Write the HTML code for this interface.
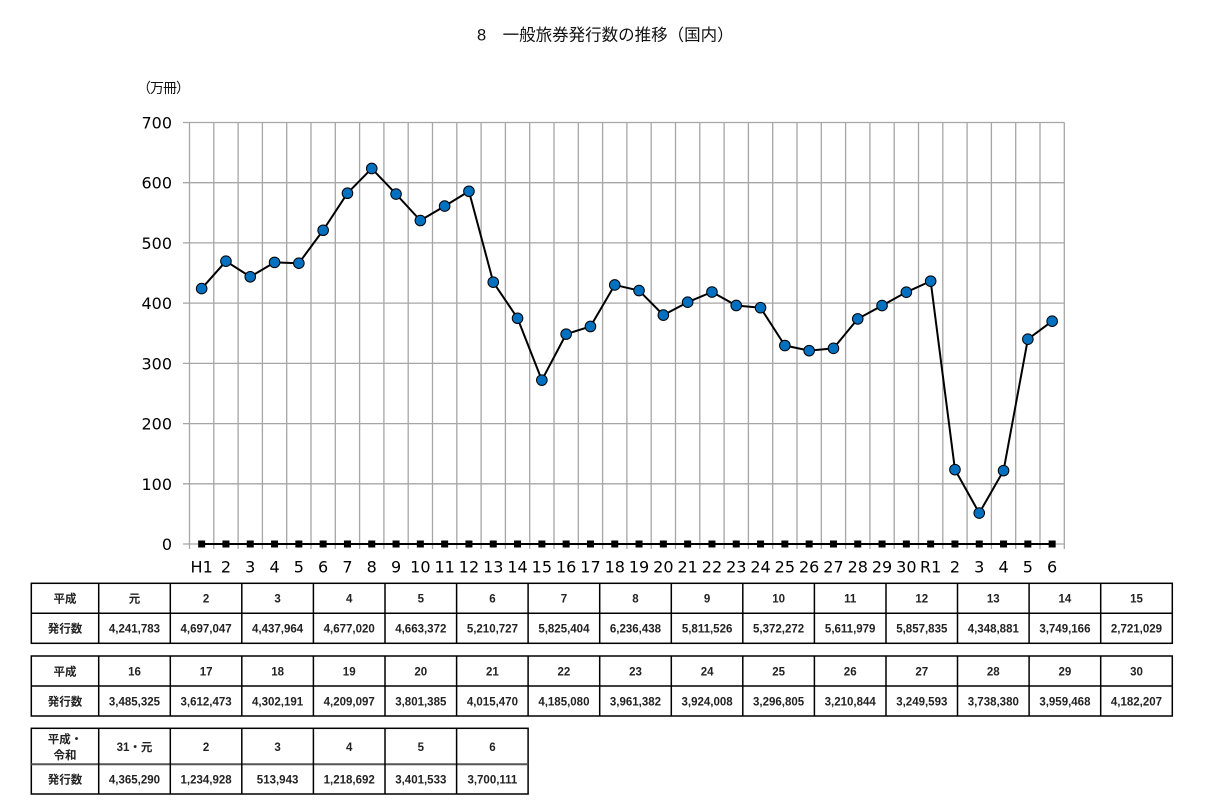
<!DOCTYPE html>
<html><head><meta charset="utf-8">
<style>
html,body{margin:0;padding:0;background:#fff;}
svg{display:block;}
.ax{font-family:"DejaVu Sans","Liberation Sans",sans-serif;font-size:16px;fill:#000;}
.tb{font-family:"Liberation Sans","Noto Sans CJK JP",sans-serif;font-size:11.5px;font-weight:bold;fill:#222;}
.jp{font-family:"Liberation Sans","Noto Sans CJK JP",sans-serif;}
#unit{position:absolute;left:137px;top:78px;font-family:"Noto Sans CJK JP",sans-serif;font-size:14px;line-height:20px;color:#111;white-space:nowrap;letter-spacing:-1px;}
</style></head>
<body>
<div style="position:relative;width:1226px;height:800px;">
<svg width="1226" height="800" viewBox="0 0 1226 800" xmlns="http://www.w3.org/2000/svg">
<rect width="1226" height="800" fill="#fff"/>
<text class="jp" x="477" y="40.5" font-size="16.5" fill="#111">8　一般旅券発行数の推移（国内）</text>

<g stroke="#a6a6a6" stroke-width="1.3">
<line x1="183" y1="122.5" x2="1064.3" y2="122.5"/>
<line x1="183" y1="182.7" x2="1064.3" y2="182.7"/>
<line x1="183" y1="242.9" x2="1064.3" y2="242.9"/>
<line x1="183" y1="303.1" x2="1064.3" y2="303.1"/>
<line x1="183" y1="363.4" x2="1064.3" y2="363.4"/>
<line x1="183" y1="423.6" x2="1064.3" y2="423.6"/>
<line x1="183" y1="483.8" x2="1064.3" y2="483.8"/>
<line x1="183" y1="544" x2="1064.3" y2="544"/>
<line x1="189.5" y1="122.5" x2="189.5" y2="549"/>
<line x1="213.8" y1="122.5" x2="213.8" y2="549"/>
<line x1="238.1" y1="122.5" x2="238.1" y2="549"/>
<line x1="262.4" y1="122.5" x2="262.4" y2="549"/>
<line x1="286.7" y1="122.5" x2="286.7" y2="549"/>
<line x1="311.0" y1="122.5" x2="311.0" y2="549"/>
<line x1="335.3" y1="122.5" x2="335.3" y2="549"/>
<line x1="359.6" y1="122.5" x2="359.6" y2="549"/>
<line x1="383.9" y1="122.5" x2="383.9" y2="549"/>
<line x1="408.2" y1="122.5" x2="408.2" y2="549"/>
<line x1="432.5" y1="122.5" x2="432.5" y2="549"/>
<line x1="456.8" y1="122.5" x2="456.8" y2="549"/>
<line x1="481.1" y1="122.5" x2="481.1" y2="549"/>
<line x1="505.4" y1="122.5" x2="505.4" y2="549"/>
<line x1="529.7" y1="122.5" x2="529.7" y2="549"/>
<line x1="554.0" y1="122.5" x2="554.0" y2="549"/>
<line x1="578.3" y1="122.5" x2="578.3" y2="549"/>
<line x1="602.6" y1="122.5" x2="602.6" y2="549"/>
<line x1="626.9" y1="122.5" x2="626.9" y2="549"/>
<line x1="651.2" y1="122.5" x2="651.2" y2="549"/>
<line x1="675.5" y1="122.5" x2="675.5" y2="549"/>
<line x1="699.8" y1="122.5" x2="699.8" y2="549"/>
<line x1="724.1" y1="122.5" x2="724.1" y2="549"/>
<line x1="748.4" y1="122.5" x2="748.4" y2="549"/>
<line x1="772.7" y1="122.5" x2="772.7" y2="549"/>
<line x1="797.0" y1="122.5" x2="797.0" y2="549"/>
<line x1="821.3" y1="122.5" x2="821.3" y2="549"/>
<line x1="845.6" y1="122.5" x2="845.6" y2="549"/>
<line x1="869.9" y1="122.5" x2="869.9" y2="549"/>
<line x1="894.2" y1="122.5" x2="894.2" y2="549"/>
<line x1="918.5" y1="122.5" x2="918.5" y2="549"/>
<line x1="942.8" y1="122.5" x2="942.8" y2="549"/>
<line x1="967.1" y1="122.5" x2="967.1" y2="549"/>
<line x1="991.4" y1="122.5" x2="991.4" y2="549"/>
<line x1="1015.7" y1="122.5" x2="1015.7" y2="549"/>
<line x1="1040.0" y1="122.5" x2="1040.0" y2="549"/>
<line x1="1064.3" y1="122.5" x2="1064.3" y2="549"/>
</g>

<g class="ax" text-anchor="end">
<text x="172" y="128.5">700</text>
<text x="172" y="188.7">600</text>
<text x="172" y="248.9">500</text>
<text x="172" y="309.1">400</text>
<text x="172" y="369.4">300</text>
<text x="172" y="429.6">200</text>
<text x="172" y="489.8">100</text>
<text x="172" y="550">0</text>
</g>

<g class="ax" text-anchor="middle">
<text x="201.65" y="572.5">H1</text>
<text x="225.95" y="572.5">2</text>
<text x="250.25" y="572.5">3</text>
<text x="274.55" y="572.5">4</text>
<text x="298.85" y="572.5">5</text>
<text x="323.15" y="572.5">6</text>
<text x="347.45" y="572.5">7</text>
<text x="371.75" y="572.5">8</text>
<text x="396.05" y="572.5">9</text>
<text x="420.35" y="572.5">10</text>
<text x="444.65" y="572.5">11</text>
<text x="468.95" y="572.5">12</text>
<text x="493.25" y="572.5">13</text>
<text x="517.55" y="572.5">14</text>
<text x="541.85" y="572.5">15</text>
<text x="566.15" y="572.5">16</text>
<text x="590.45" y="572.5">17</text>
<text x="614.75" y="572.5">18</text>
<text x="639.05" y="572.5">19</text>
<text x="663.35" y="572.5">20</text>
<text x="687.65" y="572.5">21</text>
<text x="711.95" y="572.5">22</text>
<text x="736.25" y="572.5">23</text>
<text x="760.55" y="572.5">24</text>
<text x="784.85" y="572.5">25</text>
<text x="809.15" y="572.5">26</text>
<text x="833.45" y="572.5">27</text>
<text x="857.75" y="572.5">28</text>
<text x="882.05" y="572.5">29</text>
<text x="906.35" y="572.5">30</text>
<text x="930.65" y="572.5">R1</text>
<text x="954.95" y="572.5">2</text>
<text x="979.25" y="572.5">3</text>
<text x="1003.55" y="572.5">4</text>
<text x="1027.85" y="572.5">5</text>
<text x="1052.15" y="572.5">6</text>
</g>

<!-- zero series -->
<line x1="201.65" y1="544" x2="1052.15" y2="544" stroke="#000" stroke-width="2"/>
<g fill="#000">
<rect x="198.15" y="540.5" width="7" height="7"/><rect x="222.45" y="540.5" width="7" height="7"/><rect x="246.75" y="540.5" width="7" height="7"/><rect x="271.05" y="540.5" width="7" height="7"/><rect x="295.35" y="540.5" width="7" height="7"/><rect x="319.65" y="540.5" width="7" height="7"/><rect x="343.95" y="540.5" width="7" height="7"/><rect x="368.25" y="540.5" width="7" height="7"/><rect x="392.55" y="540.5" width="7" height="7"/><rect x="416.85" y="540.5" width="7" height="7"/><rect x="441.15" y="540.5" width="7" height="7"/><rect x="465.45" y="540.5" width="7" height="7"/><rect x="489.75" y="540.5" width="7" height="7"/><rect x="514.05" y="540.5" width="7" height="7"/><rect x="538.35" y="540.5" width="7" height="7"/><rect x="562.65" y="540.5" width="7" height="7"/><rect x="586.95" y="540.5" width="7" height="7"/><rect x="611.25" y="540.5" width="7" height="7"/><rect x="635.55" y="540.5" width="7" height="7"/><rect x="659.85" y="540.5" width="7" height="7"/><rect x="684.15" y="540.5" width="7" height="7"/><rect x="708.45" y="540.5" width="7" height="7"/><rect x="732.75" y="540.5" width="7" height="7"/><rect x="757.05" y="540.5" width="7" height="7"/><rect x="781.35" y="540.5" width="7" height="7"/><rect x="805.65" y="540.5" width="7" height="7"/><rect x="829.95" y="540.5" width="7" height="7"/><rect x="854.25" y="540.5" width="7" height="7"/><rect x="878.55" y="540.5" width="7" height="7"/><rect x="902.85" y="540.5" width="7" height="7"/><rect x="927.15" y="540.5" width="7" height="7"/><rect x="951.45" y="540.5" width="7" height="7"/><rect x="975.75" y="540.5" width="7" height="7"/><rect x="1000.05" y="540.5" width="7" height="7"/><rect x="1024.35" y="540.5" width="7" height="7"/><rect x="1048.65" y="540.5" width="7" height="7"/>
</g>

<!-- main series -->
<polyline fill="none" stroke="#000" stroke-width="2" stroke-linejoin="round" points="201.65,288.58 225.95,261.17 250.25,276.77 274.55,262.38 298.85,263.20 323.15,230.24 347.45,193.23 371.75,168.48 396.05,194.06 420.35,220.51 444.65,206.08 468.95,191.28 493.25,282.14 517.55,318.24 541.85,380.16 566.15,334.13 590.45,326.48 614.75,284.95 639.05,290.55 663.35,315.10 687.65,302.21 711.95,292.00 736.25,305.47 760.55,307.72 784.85,345.49 809.15,350.66 833.45,348.33 857.75,318.89 882.05,305.58 906.35,292.17 930.65,281.15 954.95,469.64 979.25,513.06 1003.55,470.62 1027.85,339.18 1052.15,321.20"/>
<g fill="#0070c0" stroke="#000" stroke-width="1">
<circle cx="201.65" cy="288.58" r="5.3"/><circle cx="225.95" cy="261.17" r="5.3"/><circle cx="250.25" cy="276.77" r="5.3"/><circle cx="274.55" cy="262.38" r="5.3"/><circle cx="298.85" cy="263.20" r="5.3"/><circle cx="323.15" cy="230.24" r="5.3"/><circle cx="347.45" cy="193.23" r="5.3"/><circle cx="371.75" cy="168.48" r="5.3"/><circle cx="396.05" cy="194.06" r="5.3"/><circle cx="420.35" cy="220.51" r="5.3"/><circle cx="444.65" cy="206.08" r="5.3"/><circle cx="468.95" cy="191.28" r="5.3"/><circle cx="493.25" cy="282.14" r="5.3"/><circle cx="517.55" cy="318.24" r="5.3"/><circle cx="541.85" cy="380.16" r="5.3"/><circle cx="566.15" cy="334.13" r="5.3"/><circle cx="590.45" cy="326.48" r="5.3"/><circle cx="614.75" cy="284.95" r="5.3"/><circle cx="639.05" cy="290.55" r="5.3"/><circle cx="663.35" cy="315.10" r="5.3"/><circle cx="687.65" cy="302.21" r="5.3"/><circle cx="711.95" cy="292.00" r="5.3"/><circle cx="736.25" cy="305.47" r="5.3"/><circle cx="760.55" cy="307.72" r="5.3"/><circle cx="784.85" cy="345.49" r="5.3"/><circle cx="809.15" cy="350.66" r="5.3"/><circle cx="833.45" cy="348.33" r="5.3"/><circle cx="857.75" cy="318.89" r="5.3"/><circle cx="882.05" cy="305.58" r="5.3"/><circle cx="906.35" cy="292.17" r="5.3"/><circle cx="930.65" cy="281.15" r="5.3"/><circle cx="954.95" cy="469.64" r="5.3"/><circle cx="979.25" cy="513.06" r="5.3"/><circle cx="1003.55" cy="470.62" r="5.3"/><circle cx="1027.85" cy="339.18" r="5.3"/><circle cx="1052.15" cy="321.20" r="5.3"/>
</g>

<!-- Table 1 -->
<g stroke="#000" stroke-width="1.5" fill="none">
<rect x="31.3" y="583.3" width="1141" height="60"/>
<line x1="31.3" y1="613.3" x2="1172.3" y2="613.3"/>
<line x1="98.7" y1="583.3" x2="98.7" y2="643.3"/><line x1="170.3" y1="583.3" x2="170.3" y2="643.3"/><line x1="241.8" y1="583.3" x2="241.8" y2="643.3"/><line x1="313.4" y1="583.3" x2="313.4" y2="643.3"/><line x1="385.0" y1="583.3" x2="385.0" y2="643.3"/><line x1="456.6" y1="583.3" x2="456.6" y2="643.3"/><line x1="528.1" y1="583.3" x2="528.1" y2="643.3"/><line x1="599.7" y1="583.3" x2="599.7" y2="643.3"/><line x1="671.3" y1="583.3" x2="671.3" y2="643.3"/><line x1="742.8" y1="583.3" x2="742.8" y2="643.3"/><line x1="814.4" y1="583.3" x2="814.4" y2="643.3"/><line x1="886.0" y1="583.3" x2="886.0" y2="643.3"/><line x1="957.5" y1="583.3" x2="957.5" y2="643.3"/><line x1="1029.1" y1="583.3" x2="1029.1" y2="643.3"/><line x1="1100.7" y1="583.3" x2="1100.7" y2="643.3"/>
</g>
<g class="tb" text-anchor="middle">
<text x="65" y="602.5">平成</text><text x="134.5" y="602.5">元</text><text x="206.1" y="602.5">2</text><text x="277.6" y="602.5">3</text><text x="349.2" y="602.5">4</text><text x="420.8" y="602.5">5</text><text x="492.4" y="602.5">6</text><text x="563.9" y="602.5">7</text><text x="635.5" y="602.5">8</text><text x="707.1" y="602.5">9</text><text x="778.6" y="602.5">10</text><text x="850.2" y="602.5">11</text><text x="921.8" y="602.5">12</text><text x="993.3" y="602.5">13</text><text x="1064.9" y="602.5">14</text><text x="1136.5" y="602.5">15</text>
<text x="65" y="632.5">発行数</text><text x="134.5" y="632.5">4,241,783</text><text x="206.1" y="632.5">4,697,047</text><text x="277.6" y="632.5">4,437,964</text><text x="349.2" y="632.5">4,677,020</text><text x="420.8" y="632.5">4,663,372</text><text x="492.4" y="632.5">5,210,727</text><text x="563.9" y="632.5">5,825,404</text><text x="635.5" y="632.5">6,236,438</text><text x="707.1" y="632.5">5,811,526</text><text x="778.6" y="632.5">5,372,272</text><text x="850.2" y="632.5">5,611,979</text><text x="921.8" y="632.5">5,857,835</text><text x="993.3" y="632.5">4,348,881</text><text x="1064.9" y="632.5">3,749,166</text><text x="1136.5" y="632.5">2,721,029</text>
</g>

<!-- Table 2 -->
<g stroke="#000" stroke-width="1.5" fill="none">
<rect x="31.3" y="656" width="1141" height="60"/>
<line x1="31.3" y1="686" x2="1172.3" y2="686"/>
<line x1="98.7" y1="656" x2="98.7" y2="716"/><line x1="170.3" y1="656" x2="170.3" y2="716"/><line x1="241.8" y1="656" x2="241.8" y2="716"/><line x1="313.4" y1="656" x2="313.4" y2="716"/><line x1="385.0" y1="656" x2="385.0" y2="716"/><line x1="456.6" y1="656" x2="456.6" y2="716"/><line x1="528.1" y1="656" x2="528.1" y2="716"/><line x1="599.7" y1="656" x2="599.7" y2="716"/><line x1="671.3" y1="656" x2="671.3" y2="716"/><line x1="742.8" y1="656" x2="742.8" y2="716"/><line x1="814.4" y1="656" x2="814.4" y2="716"/><line x1="886.0" y1="656" x2="886.0" y2="716"/><line x1="957.5" y1="656" x2="957.5" y2="716"/><line x1="1029.1" y1="656" x2="1029.1" y2="716"/><line x1="1100.7" y1="656" x2="1100.7" y2="716"/>
</g>
<g class="tb" text-anchor="middle">
<text x="65" y="675.5">平成</text><text x="134.5" y="675.5">16</text><text x="206.1" y="675.5">17</text><text x="277.6" y="675.5">18</text><text x="349.2" y="675.5">19</text><text x="420.8" y="675.5">20</text><text x="492.4" y="675.5">21</text><text x="563.9" y="675.5">22</text><text x="635.5" y="675.5">23</text><text x="707.1" y="675.5">24</text><text x="778.6" y="675.5">25</text><text x="850.2" y="675.5">26</text><text x="921.8" y="675.5">27</text><text x="993.3" y="675.5">28</text><text x="1064.9" y="675.5">29</text><text x="1136.5" y="675.5">30</text>
<text x="65" y="705.5">発行数</text><text x="134.5" y="705.5">3,485,325</text><text x="206.1" y="705.5">3,612,473</text><text x="277.6" y="705.5">4,302,191</text><text x="349.2" y="705.5">4,209,097</text><text x="420.8" y="705.5">3,801,385</text><text x="492.4" y="705.5">4,015,470</text><text x="563.9" y="705.5">4,185,080</text><text x="635.5" y="705.5">3,961,382</text><text x="707.1" y="705.5">3,924,008</text><text x="778.6" y="705.5">3,296,805</text><text x="850.2" y="705.5">3,210,844</text><text x="921.8" y="705.5">3,249,593</text><text x="993.3" y="705.5">3,738,380</text><text x="1064.9" y="705.5">3,959,468</text><text x="1136.5" y="705.5">4,182,207</text>
</g>

<!-- Table 3 -->
<g stroke="#000" stroke-width="1.5" fill="none">
<rect x="31.3" y="728.3" width="496.8" height="65.7"/>
<line x1="31.3" y1="764.3" x2="528.1" y2="764.3" stroke="#555" stroke-width="2"/>
<line x1="98.7" y1="728.3" x2="98.7" y2="794"/><line x1="170.3" y1="728.3" x2="170.3" y2="794"/><line x1="241.8" y1="728.3" x2="241.8" y2="794"/><line x1="313.4" y1="728.3" x2="313.4" y2="794"/><line x1="385.0" y1="728.3" x2="385.0" y2="794"/><line x1="456.6" y1="728.3" x2="456.6" y2="794"/>
</g>
<g class="tb" text-anchor="middle">
<text x="65" y="743">平成・</text><text x="65" y="759">令和</text>
<text x="134.5" y="751">31・元</text><text x="206.1" y="751">2</text><text x="277.6" y="751">3</text><text x="349.2" y="751">4</text><text x="420.8" y="751">5</text><text x="492.4" y="751">6</text>
<text x="65" y="783.5">発行数</text><text x="134.5" y="783.5">4,365,290</text><text x="206.1" y="783.5">1,234,928</text><text x="277.6" y="783.5">513,943</text><text x="349.2" y="783.5">1,218,692</text><text x="420.8" y="783.5">3,401,533</text><text x="492.4" y="783.5">3,700,111</text>
</g>
</svg>
<div id="unit">（万冊）</div>
</div>
</body></html>
